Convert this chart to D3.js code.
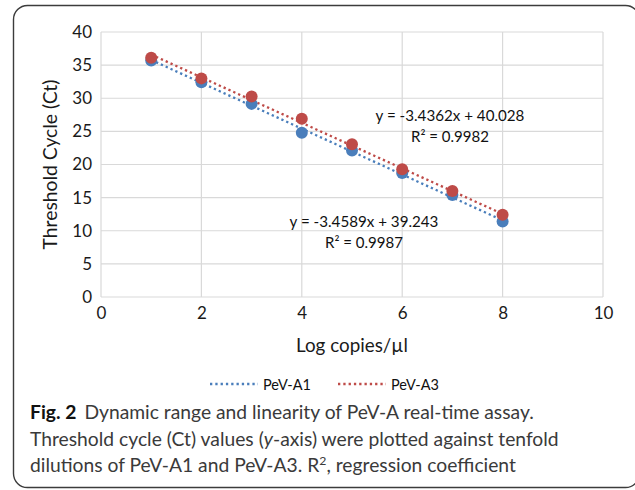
<!DOCTYPE html>
<html><head><meta charset="utf-8">
<script src="https://cdn.jsdelivr.net/npm/d3@7"></script>
<style>
html,body{margin:0;padding:0;background:#fff;}
svg{display:block;}
</style></head>
<body>
<svg id="c" width="635" height="490"></svg>
<script>
// ---- data ----
const logCopies = [1, 2, 3, 4, 5, 6, 7, 8];
const ctA1 = [35.7, 32.4, 29.15, 24.8, 22.1, 18.7, 15.4, 11.4];
const ctA3 = [36.1, 33.0, 30.25, 26.9, 23.05, 19.3, 16.0, 12.4];
const seriesNames = ["PeV-A1", "PeV-A3"];
const slopes = [-3.4589, -3.4362];
const intercepts = [39.243, 40.028];
const r2Values = [0.9987, 0.9982];
const xTicks = [0, 2, 4, 6, 8, 10];
const yTicks = [0, 5, 10, 15, 20, 25, 30, 35, 40];

const colors = ["#4a7ebb", "#be4b48"];
const svg = d3.select("#c");
const font = "Lato, 'Open Sans', sans-serif";

// scale a text's font size so that its rendered width matches a target width
function fit(sel, target) {
  const n = sel.node();
  const fs = parseFloat(sel.attr("font-size"));
  const w = n.getComputedTextLength();
  if (w > 0) sel.attr("font-size", fs * target / w);
  return sel;
}

// frame
svg.append("rect").attr("x", 13.5).attr("y", 5.5).attr("width", 626).attr("height", 482)
  .attr("rx", 14).attr("fill", "none").attr("stroke", "#3c3c3c").attr("stroke-width", 1.4);

const x = d3.scaleLinear().domain([0, 10]).range([101, 603]);
const y = d3.scaleLinear().domain([0, 40]).range([297, 32]);

// gridlines
const g = svg.append("g");
g.selectAll(".hy").data(yTicks).join("line")
  .attr("x1", x(0)).attr("x2", x(10)).attr("y1", d => y(d)).attr("y2", d => y(d))
  .attr("stroke", "#d9d9d9").attr("stroke-width", 1.2);
g.selectAll(".vx").data(xTicks).join("line")
  .attr("y1", y(0)).attr("y2", y(40)).attr("x1", d => x(d)).attr("x2", d => x(d))
  .attr("stroke", "#d9d9d9").attr("stroke-width", 1.2);

// axes (labels only)
const xAxis = svg.append("g").attr("transform", `translate(0,${y(0)})`)
  .call(d3.axisBottom(x).tickValues(xTicks).tickSize(0).tickPadding(10));
const yAxis = svg.append("g").attr("transform", `translate(${x(0)},0)`)
  .call(d3.axisLeft(y).tickValues(yTicks).tickSize(0).tickPadding(9));
[xAxis, yAxis].forEach(a => {
  a.select(".domain").remove();
  a.selectAll("text").attr("font-family", font).attr("font-size", 17).attr("fill", "#1a1a1a");
});

// axis titles
fit(svg.append("text").attr("transform", `translate(57,${(y(0)+y(40))/2}) rotate(-90)`)
  .attr("text-anchor", "middle").attr("font-family", font).attr("font-size", 18).attr("fill", "#1a1a1a")
  .text("Threshold Cycle (Ct)"), 170);
fit(svg.append("text").attr("x", (x(0)+x(10))/2).attr("y", 352).attr("text-anchor", "middle")
  .attr("font-family", font).attr("font-size", 18).attr("fill", "#1a1a1a").text("Log copies/µl"), 112);

const data = [ctA1, ctA3];
// trendlines
data.forEach((vals, i) => {
  const x0 = d3.min(logCopies), x1 = d3.max(logCopies);
  svg.append("line")
    .attr("x1", x(x0)).attr("y1", y(slopes[i]*x0 + intercepts[i]))
    .attr("x2", x(x1)).attr("y2", y(slopes[i]*x1 + intercepts[i]))
    .attr("stroke", colors[i]).attr("stroke-width", 2.3).attr("stroke-dasharray", "2.3 3");
});
// markers
data.forEach((vals, i) => {
  svg.append("g").selectAll("circle").data(vals).join("circle")
    .attr("cx", (d, j) => x(logCopies[j])).attr("cy", d => y(d)).attr("r", 6)
    .attr("fill", colors[i]);
});

// equations
const eqPos = [[364, 227], [450, 121]];
data.forEach((vals, i) => {
  fit(svg.append("text").attr("x", eqPos[i][0]).attr("y", eqPos[i][1]).attr("text-anchor", "middle")
    .attr("font-family", font).attr("font-size", 15).attr("fill", "#111")
    .text(`y = ${slopes[i]}x + ${intercepts[i]}`), 149);
  fit(svg.append("text").attr("x", eqPos[i][0]).attr("y", eqPos[i][1] + 20.5).attr("text-anchor", "middle")
    .attr("font-family", font).attr("font-size", 15).attr("fill", "#111")
    .text(`R² = ${r2Values[i]}`), 78);
});

// legend
const legX = [210, 338];
seriesNames.forEach((n, i) => {
  svg.append("line").attr("x1", legX[i]).attr("x2", legX[i] + 48).attr("y1", 384).attr("y2", 384)
    .attr("stroke", colors[i]).attr("stroke-width", 2.3).attr("stroke-dasharray", "2.3 3");
  svg.append("text").attr("x", legX[i] + 53).attr("y", 389.5).attr("font-family", font)
    .attr("font-size", 14.5).attr("fill", "#111").text(n);
});

// caption
const capFont = "Lato, 'Open Sans', sans-serif";
const cap = svg.append("g").attr("font-family", capFont).attr("font-size", 18).attr("fill", "#3a3a3a");
const l1 = cap.append("text").attr("x", 30).attr("y", 419).attr("font-size", 18);
l1.append("tspan").attr("font-weight", "bold").attr("fill", "#111").text("Fig. 2");
l1.append("tspan").attr("dx", 8).text("Dynamic range and linearity of PeV-A real-time assay.");
const l2 = cap.append("text").attr("x", 30).attr("y", 446).attr("font-size", 18);
l2.append("tspan").text("Threshold cycle (Ct) values (");
l2.append("tspan").attr("font-style", "italic").text("y");
l2.append("tspan").text("-axis) were plotted against tenfold");
const l3 = cap.append("text").attr("x", 30).attr("y", 472).attr("font-size", 18);
l3.append("tspan").text("dilutions of PeV-A1 and PeV-A3. R");
l3.append("tspan").attr("font-size", 11.5).attr("dy", -7).text("2");
l3.append("tspan").attr("dy", 7).text(", regression coefficient");
// common caption size from measured widths of the three lines
const targets = [510, 533, 478];
const ratios = [l1, l2, l3].map((l, i) => targets[i] / l.node().getBBox().width);
const k = d3.mean(ratios);
cap.attr("font-size", 18 * k);
[l1, l2, l3].forEach(l => l.attr("font-size", 18 * k));
l3.select("tspan:nth-child(2)").attr("font-size", 11.5 * k);
</script>
</body></html>
